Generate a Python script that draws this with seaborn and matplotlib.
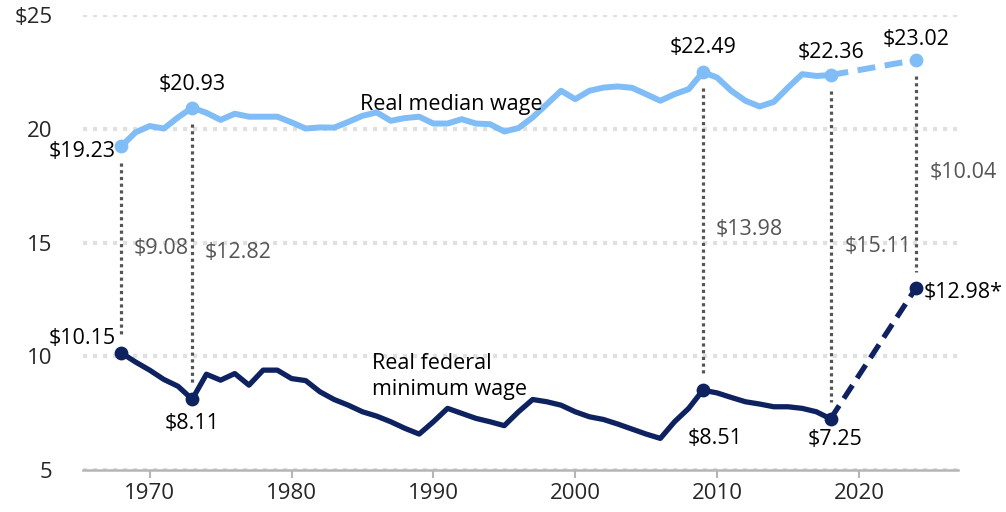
import seaborn as sns
import matplotlib.pyplot as plt
import pandas as pd

# data (2024 dollars)
years = list(range(1968, 2019))
median_wage = [19.23, 19.84, 20.12, 20.01, 20.50, 20.93, 20.70, 20.39, 20.66, 20.53,
               20.53, 20.53, 20.28, 20.01, 20.06, 20.05, 20.30, 20.57, 20.72, 20.35,
               20.47, 20.53, 20.23, 20.23, 20.42, 20.23, 20.20, 19.88, 20.03, 20.50,
               21.08, 21.67, 21.30, 21.67, 21.81, 21.86, 21.80, 21.52, 21.23, 21.52,
               21.74, 22.49, 22.25, 21.67, 21.23, 20.98, 21.18, 21.81, 22.40, 22.32,
               22.36]
min_wage = [10.15, 9.75, 9.39, 8.98, 8.68, 8.11, 9.21, 8.95, 9.24, 8.73,
            9.39, 9.39, 9.02, 8.93, 8.44, 8.10, 7.85, 7.56, 7.37, 7.12,
            6.83, 6.58, 7.12, 7.71, 7.49, 7.27, 7.12, 6.95, 7.56, 8.10,
            8.00, 7.85, 7.56, 7.34, 7.22, 7.02, 6.80, 6.58, 6.39, 7.12,
            7.71, 8.51, 8.39, 8.19, 8.00, 7.90, 7.78, 7.78, 7.71, 7.56,
            7.25]
proj_years = [2018, 2024]
proj_median = [22.36, 23.02]
proj_min = [7.25, 12.98]

key_years = [1968, 1973, 2009, 2018, 2024]
key_median = [19.23, 20.93, 22.49, 22.36, 23.02]
key_min = [10.15, 8.11, 8.51, 7.25, 12.98]
min_suffix = ["", "", "", "", "*"]

LIGHT = "#80bdf7"
NAVY = "#0e2260"
GREY = "#555555"

hist = pd.DataFrame({"year": years, "median": median_wage, "minimum": min_wage})
proj = pd.DataFrame({"year": proj_years, "median": proj_median, "minimum": proj_min})

sns.set_theme(style="white")
plt.rcParams["font.family"] = ["Open Sans", "DejaVu Sans"]

fig = plt.figure(figsize=(10.06, 5.12), dpi=100)
ax = fig.add_axes([0.0825, 0.082, 0.87, 0.8887])

# grid
for g in [5, 10, 15, 20, 25]:
    ax.axhline(g, color="#e0e0e0", lw=3, dashes=(1, 1.4), zorder=0)

# dotted connectors
for yr, hi, lo in zip(key_years, key_median, key_min):
    ax.plot([yr, yr], [hi - 0.72, lo + 0.72], color=GREY, lw=2.3, dashes=(1, 1.1), zorder=1)

sns.lineplot(data=hist, x="year", y="median", color=LIGHT, lw=4.3, ax=ax, zorder=3)
sns.lineplot(data=hist, x="year", y="minimum", color=NAVY, lw=3.8, ax=ax, zorder=3)
sns.lineplot(data=proj, x="year", y="median", color=LIGHT, lw=4.3, ax=ax, zorder=3)
ax.lines[-1].set_dashes((3, 1.6))
sns.lineplot(data=proj, x="year", y="minimum", color=NAVY, lw=3.8, ax=ax, zorder=3)
ax.lines[-1].set_dashes((3, 1.6))

ax.scatter(key_years, key_median, s=80, color=LIGHT, zorder=4, clip_on=False)
ax.scatter(key_years, key_min, s=80, color=NAVY, zorder=4, clip_on=False)

fs = 15.5
# median labels
med_off = [(-4, -4, "right", "center"), (0, 9, "center", "bottom"), (0, 10, "center", "bottom"),
           (0, 9, "center", "bottom"), (0, 7, "center", "bottom")]
for yr, v, (dx, dy, ha, va) in zip(key_years, key_median, med_off):
    ax.annotate(f"${v:.2f}", (yr, v), xytext=(dx, dy), textcoords="offset points",
                ha=ha, va=va, fontsize=fs, color="black", zorder=5)

min_off = [(-4, 10, "right", "center"), (0, -10, "center", "top"), (9, -27, "center", "top"),
           (3, -7, "center", "top"), (6, -3, "left", "center")]
for yr, v, suf, (dx, dy, ha, va) in zip(key_years, key_min, min_suffix, min_off):
    ax.annotate(f"${v:.2f}{suf}", (yr, v), xytext=(dx, dy), textcoords="offset points",
                ha=ha, va=va, fontsize=fs, color="black", zorder=5)

# gap labels
gap_y = [14.74, 14.56, 15.57, 14.82, 18.07]
gap_dx = [9, 9, 9, 10, 10]
for yr, hi, lo, gy, dx in zip(key_years, key_median, key_min, gap_y, gap_dx):
    ax.annotate(f"${hi - lo:.2f}", (yr, gy), xytext=(dx, 0), textcoords="offset points",
                ha="left", va="center", fontsize=fs, color=GREY, zorder=5)

ax.text(1984.8, 21.05, "Real median wage", fontsize=fs, ha="left", va="center", color="black")
ax.text(1985.7, 9.12, "Real federal\nminimum wage", fontsize=fs, ha="left", va="center",
        color="black", linespacing=1.3)

ax.set_xlim(1965.3, 2027.0)
ax.set_ylim(5, 25)
ax.set_xticks([1970, 1980, 1990, 2000, 2010, 2020])
ax.set_yticks([5, 10, 15, 20, 25])
ax.set_yticklabels(["5", "10", "15", "20", "$25"])
ax.set_xlabel("")
ax.set_ylabel("")

for s in ["top", "right", "left"]:
    ax.spines[s].set_visible(False)
ax.spines["bottom"].set_color("#b5b5b5")
ax.spines["bottom"].set_linewidth(1.8)
ax.tick_params(axis="x", length=6, width=1.5, color="#b5b5b5", pad=3, labelsize=16, bottom=True)
ax.tick_params(axis="y", length=0, pad=22, labelsize=16)

plt.savefig("out.png", dpi=100)
